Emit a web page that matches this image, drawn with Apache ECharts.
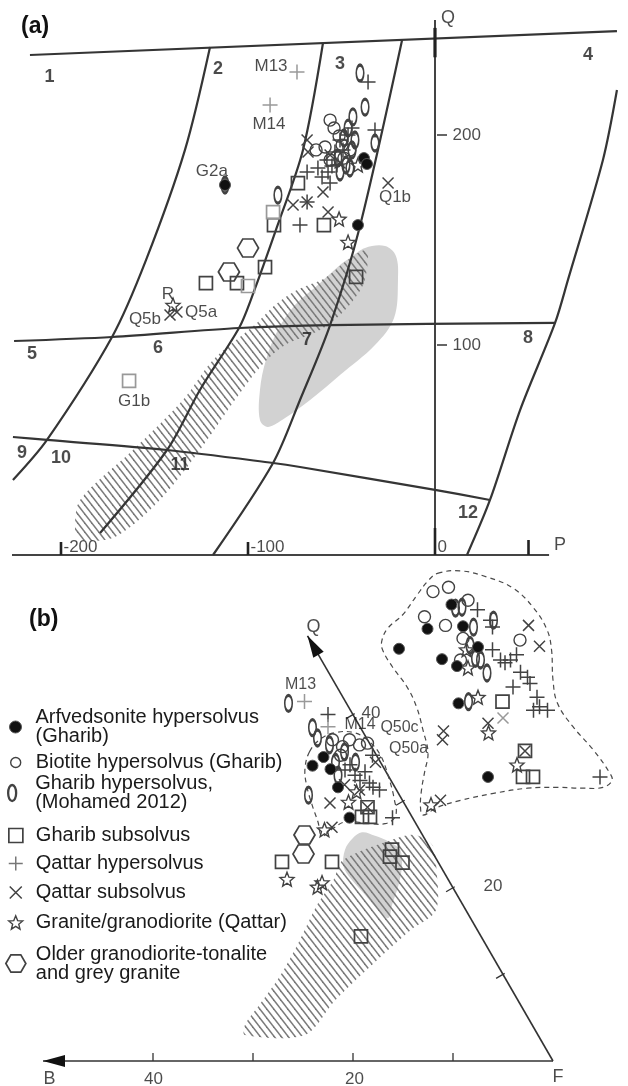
<!DOCTYPE html>
<html><head><meta charset="utf-8">
<script src="https://cdn.jsdelivr.net/npm/echarts@6/dist/echarts.min.js"></script>
<style>html,body{margin:0;padding:0;background:#fff}#c{width:628px;height:1086px}</style>
</head><body><div id="c"></div>
<script>
// ================= Panel (a): P–Q diagram, values are [P, Q] =================
const aTopLine = [[-216.6,238.1],[97.3,249.5]];
const aCurve12 = [[-120.3,241.9],[-133.7,192.9],[-154.5,140.5],[-172.7,103.8],[-207.5,54.8],[-225.7,35.7]];
const aCurve23 = [[-59.9,243.8],[-70.6,192.9],[-84.5,156.2],[-97.9,122.9],[-104.8,108.1],[-125.7,78.6],[-143.3,50.0],[-179.1,10.5]];
const aCurve34 = [[-17.6,245.2],[-40.1,156.7],[-56.1,109.5],[-72.2,73.8],[-86.6,43.8],[-118.7,0]];
const aCurveR  = [[97.3,221.4],[89.8,188.1],[71.1,131.0],[64.2,110.5],[45.5,69.0],[29.4,26.2],[17.1,0]];
const aMidLine = [[-225.1,101.9],[-172.7,103.8],[-104.8,108.1],[-56.1,109.5],[64.2,110.5]];
const aLowLine = [[-225.7,56.2],[-207.5,54.8],[-143.3,50.0],[-86.6,43.8],[-72.2,41.9],[0,31.0],[29.4,26.2]];

const aPAxis = [-226.2, 61];        // extent of P axis line
const aQAxis = [0, 254.8];          // extent of Q axis line
const aQAxisMark = [237, 251];      // thick part at top of Q axis
const aPTicks = [-200, -100, 0, 50];
const aPTickLabels = ['-200', '-100', '0', ''];
const aQTicks = [100, 200];
const aQTickLabels = ['100', '200'];

const aGreyField = [[-45.5,141.4],[-37.4,146.2],[-26.7,147.1],[-20.9,142.4],[-19.8,131.0],[-21.9,112.9],[-32.1,100.0],[-50.8,85.7],[-66.8,73.8],[-80.2,65.2],[-89.3,61.0],[-93.6,64.3],[-93.6,78.6],[-90.4,92.9],[-84.0,107.1],[-74.9,119.0],[-62.6,128.6],[-50.8,138.1]];
const aHatchField = [[-37.4,145.2],[-48.1,139.5],[-58.8,131.9],[-73.8,126.2],[-85.6,119.0],[-95.2,110.5],[-118.7,92.9],[-134.8,73.8],[-161.5,50.0],[-189.8,26.2],[-192.5,11.9],
  [-189.8,7.1],[-171.1,8.6],[-147.1,26.2],[-125.7,50.0],[-107.0,73.8],[-92.5,90.5],[-80.2,100.0],[-61.5,107.1],[-48.1,116.7],[-38.5,128.6],[-35.8,141.4]];

const aArf  = [[-41.2,157.1],[-38.0,189.0],[-36.4,186.2],[-112.3,176.2]];
const aBio  = [[-56.1,207.1],[-54.0,203.3],[-51.3,199.5],[-58.8,194.3],[-63.6,192.9],[-45.5,192.9],[-48.7,189.0],[-49.7,195.2],[-56.1,188.1]];
const aMoh  = [[-40.1,229.5],[-37.4,213.3],[-43.9,208.6],[-32.1,196.2],[-84.0,171.4],[-112.3,176.2],[-46.5,203.3],[-48.7,198.6],[-42.8,197.6],[-45.5,184.3],[-50.8,182.4],[-44.4,192.9],[-51.9,189.0],[-47.6,185.7]];
const aGsub = [[-73.3,177.1],[-86.1,157.1],[-59.4,157.1],[-90.9,137.1],[-122.5,129.5],[-105.9,129.5],[-42.2,132.4]];
const aGsubGrey = [[-86.6,163.3],[-100.0,128.1],[-163.6,82.9]];
const aQhyp = [[-35.8,225.2],[-32.1,202.4],[-68.4,182.4],[-72.2,157.1],[-60.4,180.0],[-56.1,177.1],[-52.4,185.7],[-49.2,192.9],[-57.8,188.1],[-62.6,184.3],[-57.2,182.4],[-68.4,168.1],[-50.8,197.6],[-46.5,200.0],[-44.4,203.3],[-53.5,191.9],[-55.1,185.2]];
const aQhypGrey = [[-73.8,230.0],[-88.2,214.3]];
const aQsub = [[-68.4,197.6],[-67.9,191.9],[-75.9,166.7],[-59.9,172.9],[-57.2,163.3],[-25.1,177.1],[-141.7,114.3],[-138.0,115.7],[-56.1,190.5],[-50.8,186.7],[-68.4,168.1]];
const aGran = [[-41.2,185.7],[-51.3,160.0],[-46.5,149.0],[-140.1,119.0]];
const aOld  = [[-100.0,146.2],[-110.2,134.8]];

const aSampleLabels = ['M13','M14','G2a','Q1b','R','Q5b','Q5a','G1b'];
const aSampleLabelPos = [[-87.7,232.9],[-88.8,205.2],[-119.3,182.9],[-21.4,170.5],[-142.8,124.3],[-155.1,112.4],[-125.1,115.7],[-160.9,73.3]];
const aFieldNums = ['1','2','3','4','5','6','7','8','9','10','11','12'];
const aFieldNumPos = [[-206.1,227.4],[-116.0,231.4],[-50.8,233.8],[81.8,238.1],[-215.5,95.7],[-148.1,98.6],[-68.4,102.4],[49.7,103.3],[-220.9,48.6],[-200.0,46.2],[-136.4,42.9],[17.6,20.0]];
const aAxisNames = ['P','Q'];
const aAxisNamePos = [[66.8,4.8],[7.0,255.7]];

// ================= Panel (b): ternary Q–B–F, values are [B, Q] (F = 100 − B − Q) =================
const bBAxisEnd = 51.0;
const bQAxisEnd = 49.1;
const bTicks = [10, 20, 30, 40];

const bGreyField = [[7.2,25.7],[5.9,26.4],[4.8,26.0],[3.7,25.3],[3.1,24.4],[3.8,22.6],[5.3,20.3],[7.1,18.0],[8.2,16.5],[8.7,17.2],[9.2,19.2],[9.7,21.1],[9.7,22.5],[8.6,24.4]];
const bHatchField = [[29.3,3.0],[23.3,3.0],[18.3,7.0],[11.7,11.7],[6.7,15.1],[3.0,17.4],[0.6,22.1],[-0.4,24.9],[0.7,26.1],[2.9,25.7],[9.4,23.2],[11.5,20.9],[14.6,18.0],[18.3,14.0],[22.3,9.9],[26.1,6.5],[28.7,4.2]];
const bOutlineRight = [[-16.6,56.3],[-19.0,56.6],[-21.3,55.9],[-23.3,54.6],[-24.2,52.4],[-24.3,49.8],[-23.6,47.5],[-22.0,44.0],[-21.1,41.3],[-21.3,38.6],[-22.0,35.9],[-22.3,33.3],[-22.1,32.4],[-20.8,31.6],[-18.8,31.5],[-16.2,31.6],[-13.2,31.5],[-9.5,30.9],[-5.8,30.1],[-3.1,29.3],[-1.2,28.4],[-1.4,29.3],[-2.5,31.3],[-3.8,33.3],[-5.3,35.6],[-6.1,38.2],[-6.8,40.9],[-7.0,43.2],[-6.7,45.5],[-6.7,47.5],[-7.2,48.6],[-8.5,50.0],[-10.7,51.5],[-13.3,53.8],[-15.3,55.5]];
const bOutlineLeft = [[6.5,35.7],[4.8,37.1],[2.9,37.9],[0.9,37.9],[-0.1,36.8],[-0.4,35.3],[0.0,33.0],[0.8,30.1],[1.6,28.3],[3.1,27.4],[5.1,27.5],[7.0,27.6],[8.5,26.9],[10.1,26.0],[9.7,27.6],[9.3,29.6],[8.7,31.9],[7.9,33.8]];

const bArf  = [[-12.4,49.9],[-8.4,47.6],[-12.1,46.4],[-13.2,45.6],[-16.1,50.2],[-16.2,52.7],[-16.4,47.8],[-11.2,41.3],[-9.9,32.8],
               [7.0,34.1],[5.4,35.1],[5.4,33.7],[5.7,31.6],[6.3,28.1]];
const bBio  = [[-15.1,54.2],[-16.9,54.7],[-12.8,51.3],[-14.4,50.3],[-18.1,53.2],[-15.4,48.8],[-21.0,48.6],[-13.9,46.3],
               [3.5,37.1],[2.9,36.3],[1.8,37.1],[1.1,36.5],[0.2,36.7],[3.6,35.3]];
const bMoh  = [[-16.4,52.3],[-17.1,52.4],[-17.1,50.1],[-19.5,50.9],[-15.7,48.0],[-15.9,46.3],[-15.5,46.5],[-15.8,44.8],[-12.3,41.5],
               [5.8,41.3],[4.8,38.5],[4.9,37.3],[9.1,30.7],[4.1,36.5],[3.0,35.7],[5.0,33.0],[2.5,34.5],[4.5,34.5]];
const bGsub = [[-15.7,41.5],[-15.1,35.8],[-13.4,32.8],[-14.4,32.8],
               [3.9,29.3],[5.0,28.2],[4.2,28.2],[15.6,23.0],[10.6,23.0],[3.9,24.4],[4.5,23.6],[3.6,22.9],[12.0,14.4]];
const bQhyp = [[-18.5,52.1],[-19.2,50.9],[-19.0,50.1],[-17.7,47.5],[-17.9,46.3],[-18.9,46.3],[-19.8,46.9],[-19.2,44.9],[-19.6,44.3],[-19.5,43.6],[-17.6,43.2],[-19.4,42.0],[-18.3,40.5],[-19.1,40.9],[-19.7,40.5],[-21.1,32.8],[-18.2,46.0],
               [2.5,40.0],[0.4,35.3],[2.2,31.6],[2.0,28.1],[3.1,32.4],[2.1,33.4],[3.2,34.2],[3.3,33.0],[2.3,32.1],[4.0,33.6],[1.7,31.3]];
const bQhypGrey = [[4.1,41.5],[3.2,38.6]];
const bQsub = [[-22.7,50.3],[-22.6,47.9],[-13.0,39.0],[-8.1,38.1],[-7.5,37.1],[-3.8,30.1],[-15.1,35.8],
               [7.4,29.8],[8.6,27.0],[0.5,34.5],[3.7,31.3],[4.9,31.9],[3.9,29.3]];
const bQsubGrey = [[-14.8,39.6]];
const bGran = [[-15.1,47.5],[-14.2,45.4],[-13.5,42.0],[-12.5,37.9],[-13.5,34.2],[-2.6,29.6],
               [5.5,29.9],[4.1,31.1],[9.5,26.7],[16.1,21.0],[13.5,20.1],[12.8,20.6]];
const bOld  = [[11.8,26.1],[13.0,23.9]];

const bAxisNames = ['Q','B','F'];
const bAxisNamePos = [[-1.1,50.1],[51.4,-2.1],[0.4,-1.8]];
const bTickTexts = ['40','20','40','20'];
const bTickTextPos = [[-1.9,40.2],[-4.1,20.2],[41.0,-2.1],[20.9,-2.1]];
const bSampleLabels = ['M13','M14','Q50c','Q50a'];
const bSampleLabelPos = [[3.5,43.5],[-0.1,38.8],[-3.9,38.5],[-3.6,36.1]];

// ================= styling & helpers =================
const FONT = "'Liberation Sans', Arial, Helvetica, sans-serif";
const INK = '#353535';
const SYMC = '#424242';
const GREY = '#999999';
const NOFILL = 'rgba(255,255,255,0)';
const S3 = Math.sqrt(3) / 2;
const tern2cart = ([b, q]) => [-(b + q / 2), q * S3];

const ELLIPSE = 'path://M5,0C7.8,0,10,4.5,10,10C10,15.5,7.8,20,5,20C2.2,20,0,15.5,0,10C0,4.5,2.2,0,5,0Z';
const SQUARE = 'path://M0,0L10,0L10,10L0,10Z';
const PLUS = 'path://M5,0L5,10M0,5L10,5';
const CROSS = 'path://M0,0L10,10M10,0L0,10';
const STAR = 'path://M5,0L6.3,3.25L9.76,3.46L7.08,5.68L7.94,9.05L5,7.2L2.06,9.05L2.92,5.68L0.24,3.46L3.7,3.25Z';
const HEX = 'path://M0,5L2.9,0L8.6,0L11.5,5L8.6,10L2.9,10Z';

const N_ARF = 'Arfvedsonite hypersolvus (Gharib)';
const N_BIO = 'Biotite hypersolvus (Gharib)';
const N_MOH = 'Gharib hypersolvus, (Mohamed 2012)';
const N_GSUB = 'Gharib subsolvus';
const N_QHYP = 'Qattar hypersolvus';
const N_QSUB = 'Qattar subsolvus';
const N_GRAN = 'Granite/granodiorite (Qattar)';
const N_OLD = 'Older granodiorite-tonalite and grey granite';

const STY = {
  arf:  {symbol: 'circle', size: 11, fill: '#111', stroke: '#555', bw: 1},
  bio:  {symbol: 'circle', size: 12, fill: NOFILL, stroke: SYMC, bw: 1.4},
  moh:  {symbol: ELLIPSE, size: [7.5, 16], fill: NOFILL, stroke: SYMC, bw: 2.3},
  gsub: {symbol: SQUARE, size: 13, fill: NOFILL, stroke: SYMC, bw: 1.7},
  qhyp: {symbol: PLUS, size: 15, fill: NOFILL, stroke: SYMC, bw: 1.5},
  qsub: {symbol: CROSS, size: 11, fill: NOFILL, stroke: SYMC, bw: 1.5},
  gran: {symbol: STAR, size: 14, fill: NOFILL, stroke: SYMC, bw: 1.4},
  old:  {symbol: HEX, size: [21, 18], fill: NOFILL, stroke: SYMC, bw: 1.7}
};

function ptSeries(name, grid, data, st, stroke, z) {
  return {
    type: 'scatter', name, xAxisIndex: grid, yAxisIndex: grid, silent: true, z: z || 6,
    symbol: st.symbol, symbolSize: st.size, clip: false,
    itemStyle: {color: st.fill, borderColor: stroke || st.stroke, borderWidth: st.bw, opacity: 1},
    data: grid === 1 ? data.map(tern2cart) : data
  };
}
function curveSeries(grid, pts, width, smooth) {
  return {
    type: 'line', xAxisIndex: grid, yAxisIndex: grid, data: pts, symbol: 'none', showSymbol: false,
    smooth: smooth, silent: true, clip: false, z: 3, lineStyle: {color: INK, width: width}
  };
}
function segSeries(grid, segs, style, z) {
  return {
    type: 'custom', xAxisIndex: grid, yAxisIndex: grid, silent: true, clip: false, z: z || 3,
    encode: {x: [0, 2], y: [1, 3]}, data: segs,
    renderItem(params, api) {
      const a = api.coord([api.value(0), api.value(1)]);
      const b = api.coord([api.value(2), api.value(3)]);
      return {type: 'line', shape: {x1: a[0], y1: a[1], x2: b[0], y2: b[1]}, style: Object.assign({}, style)};
    }
  };
}
function polySeries(grid, pts, style, smooth, z) {
  return {
    type: 'custom', xAxisIndex: grid, yAxisIndex: grid, silent: true, clip: false, z: z,
    data: pts,
    renderItem(params, api) {
      if (params.dataIndex !== 0) return null;
      return {type: 'polygon', shape: {points: pts.map(p => api.coord(p)), smooth: smooth}, style: Object.assign({}, style)};
    }
  };
}
function textSeries(grid, texts, pos, fontSize, fontWeight) {
  return {
    type: 'scatter', xAxisIndex: grid, yAxisIndex: grid, silent: true, clip: false, z: 12,
    symbolSize: 1, itemStyle: {color: 'rgba(0,0,0,0)'},
    data: texts.map((t, i) => ({name: t, value: grid === 1 ? tern2cart(pos[i]) : pos[i]})),
    label: {show: true, position: 'inside', formatter: '{b}', color: '#1e1e1e', fontSize: fontSize,
            fontWeight: fontWeight || 'normal', fontFamily: FONT}
  };
}

// hatch pattern (diagonal "\" strokes)
const hatch = document.createElement('canvas');
hatch.width = 7; hatch.height = 9;
(function () {
  const c = hatch.getContext('2d');
  c.strokeStyle = '#7a7a7a'; c.lineWidth = 1.5;
  [-7, 0, 7].forEach(dx => { c.beginPath(); c.moveTo(dx - 3.5, -4.5); c.lineTo(dx + 10.5, 13.5); c.stroke(); });
})();
const HATCH = {image: hatch, repeat: 'repeat'};
const GREYFILL = '#d2d2d2';

// ---------- panel (a) custom axis pieces ----------
const PTICK_PX = [13, 13, 27, 15];
const aTickSeries = {
  type: 'custom', xAxisIndex: 0, yAxisIndex: 0, silent: true, clip: false, z: 4,
  encode: {x: 0, y: 1},
  data: aPTicks.map((v, i) => [v, 0, i]),
  renderItem(params, api) {
    const p = api.coord([api.value(0), 0]);
    return {type: 'line', shape: {x1: p[0], y1: p[1], x2: p[0], y2: p[1] - PTICK_PX[api.value(2)]},
            style: {stroke: '#222', lineWidth: 2.6}};
  }
};
const aQTickSeries = {
  type: 'custom', xAxisIndex: 0, yAxisIndex: 0, silent: true, clip: false, z: 4,
  encode: {x: 0, y: 1},
  data: aQTicks.map(v => [0, v]),
  renderItem(params, api) {
    const p = api.coord([0, api.value(1)]);
    return {type: 'line', shape: {x1: p[0] + 2, y1: p[1], x2: p[0] + 12, y2: p[1]}, style: {stroke: '#333', lineWidth: 1.5}};
  }
};
const aPTickLabelSeries = {
  type: 'scatter', xAxisIndex: 0, yAxisIndex: 0, silent: true, clip: false, z: 12, symbolSize: 1,
  itemStyle: {color: 'rgba(0,0,0,0)'},
  data: aPTicks.map((v, i) => ({name: aPTickLabels[i], value: [v, 0]})),
  label: {show: true, position: 'right', distance: 2, offset: [0, -8], formatter: '{b}', color: '#1e1e1e', fontSize: 17, fontFamily: FONT}
};
const aQTickLabelSeries = {
  type: 'scatter', xAxisIndex: 0, yAxisIndex: 0, silent: true, clip: false, z: 12, symbolSize: 1,
  itemStyle: {color: 'rgba(0,0,0,0)'},
  data: aQTicks.map((v, i) => ({name: aQTickLabels[i], value: [0, v]})),
  label: {show: true, position: 'right', distance: 17, formatter: '{b}', color: '#1e1e1e', fontSize: 17, fontFamily: FONT}
};

// ---------- panel (b) custom axis pieces ----------
const bAxisSegs = [[0, 0, ...tern2cart([bBAxisEnd, 0])], [0, 0, ...tern2cart([0, bQAxisEnd])]];
const bArrowSeries = {
  type: 'custom', xAxisIndex: 1, yAxisIndex: 1, silent: true, clip: false, z: 4,
  encode: {x: [0, 2], y: [1, 3]},
  data: [[...tern2cart([bBAxisEnd, 0]), 0, 0], [...tern2cart([0, bQAxisEnd]), 0, 0]],
  renderItem(params, api) {
    const t = api.coord([api.value(0), api.value(1)]);
    const f = api.coord([api.value(2), api.value(3)]);
    const dx = t[0] - f[0], dy = t[1] - f[1], L = Math.hypot(dx, dy);
    const ux = dx / L, uy = dy / L, len = 22, w = 6;
    const bx = t[0] - ux * len, by = t[1] - uy * len;
    return {type: 'polygon', shape: {points: [t, [bx - uy * w, by + ux * w], [bx + uy * w, by - ux * w]]}, style: {fill: '#111'}};
  }
};
const bTickSeries = {
  type: 'custom', xAxisIndex: 1, yAxisIndex: 1, silent: true, clip: false, z: 4,
  encode: {x: 0, y: 1},
  data: bTicks.map(v => [...tern2cart([v, 0]), 0]).concat(bTicks.map(v => [...tern2cart([0, v]), 1])),
  renderItem(params, api) {
    const p = api.coord([api.value(0), api.value(1)]);
    if (api.value(2) === 0) {
      return {type: 'line', shape: {x1: p[0], y1: p[1], x2: p[0], y2: p[1] - 8}, style: {stroke: '#333', lineWidth: 1.3}};
    }
    return {type: 'line', shape: {x1: p[0] + 1.7, y1: p[1] - 1, x2: p[0] - 6.9, y2: p[1] + 4}, style: {stroke: '#333', lineWidth: 1.3}};
  }
};

const series = [
  // panel (a) fields
  polySeries(0, aGreyField, {fill: GREYFILL}, 0.35, 1),
  polySeries(0, aHatchField, {fill: HATCH}, 0.3, 2),
  curveSeries(0, aTopLine, 2.2, false),
  curveSeries(0, aCurve12, 2.2, 0.3),
  curveSeries(0, aCurve23, 2.2, 0.3),
  curveSeries(0, aCurve34, 2.2, 0.3),
  curveSeries(0, aCurveR, 2.2, 0.3),
  curveSeries(0, aMidLine, 2.2, 0.3),
  curveSeries(0, aLowLine, 2.2, 0.3),
  segSeries(0, [[aPAxis[0], 0, aPAxis[1], 0]], {stroke: '#444', lineWidth: 2.2}, 3),
  segSeries(0, [[0, aQAxis[0], 0, aQAxis[1]]], {stroke: '#444', lineWidth: 2}, 3),
  segSeries(0, [[0, aQAxisMark[0], 0, aQAxisMark[1]]], {stroke: '#222', lineWidth: 3.2}, 4),
  aTickSeries, aQTickSeries, aPTickLabelSeries, aQTickLabelSeries,
  // panel (b) fields & axes
  polySeries(1, bGreyField.map(tern2cart), {fill: GREYFILL}, 0.35, 1),
  polySeries(1, bHatchField.map(tern2cart), {fill: HATCH}, 0.3, 2),
  polySeries(1, bOutlineRight.map(tern2cart), {fill: 'none', stroke: '#4a4a4a', lineWidth: 1.2, lineDash: [5, 4]}, 0.4, 4),
  polySeries(1, bOutlineLeft.map(tern2cart), {fill: 'none', stroke: '#4a4a4a', lineWidth: 1.2, lineDash: [5, 4]}, 0.4, 4),
  segSeries(1, bAxisSegs, {stroke: '#333', lineWidth: 1.6}, 3),
  bArrowSeries, bTickSeries,
  // points, panel (a)
  ptSeries(N_OLD, 0, aOld, STY.old),
  ptSeries(N_GSUB, 0, aGsub, STY.gsub),
  ptSeries('grey squares a', 0, aGsubGrey, STY.gsub, GREY),
  ptSeries(N_MOH, 0, aMoh, STY.moh),
  ptSeries(N_BIO, 0, aBio, STY.bio),
  ptSeries(N_QHYP, 0, aQhyp, STY.qhyp),
  ptSeries('grey plus a', 0, aQhypGrey, STY.qhyp, GREY),
  ptSeries(N_QSUB, 0, aQsub, STY.qsub),
  ptSeries(N_GRAN, 0, aGran, STY.gran),
  ptSeries(N_ARF, 0, aArf, STY.arf, null, 7),
  // points, panel (b)
  ptSeries(N_OLD, 1, bOld, STY.old),
  ptSeries(N_GSUB, 1, bGsub, STY.gsub),
  ptSeries(N_MOH, 1, bMoh, STY.moh),
  ptSeries(N_BIO, 1, bBio, STY.bio),
  ptSeries(N_QHYP, 1, bQhyp, STY.qhyp),
  ptSeries('grey plus b', 1, bQhypGrey, STY.qhyp, GREY),
  ptSeries(N_QSUB, 1, bQsub, STY.qsub),
  ptSeries('grey cross b', 1, bQsubGrey, STY.qsub, GREY),
  ptSeries(N_GRAN, 1, bGran, STY.gran),
  ptSeries(N_ARF, 1, bArf, STY.arf, null, 7),
  // texts
  textSeries(0, aSampleLabels, aSampleLabelPos, 17),
  textSeries(0, aFieldNums, aFieldNumPos, 18, 'bold'),
  textSeries(0, aAxisNames, aAxisNamePos, 18),
  textSeries(1, bAxisNames, bAxisNamePos, 18),
  textSeries(1, bTickTexts, bTickTextPos, 17),
  textSeries(1, bSampleLabels, bSampleLabelPos, 16)
];

// legend rows (one legend component per row so the spacing follows the figure)
const LEG = [
  {name: N_ARF, text: 'Arfvedsonite hypersolvus\n(Gharib)', st: STY.arf, box: 12, top: 703, padTop: 10, dx: 0},
  {name: N_BIO, text: 'Biotite hypersolvus (Gharib)', st: STY.bio, box: 10, top: 752.5, padTop: 0, dx: 0},
  {name: N_MOH, text: 'Gharib hypersolvus,\n(Mohamed 2012)', st: STY.moh, box: 16, top: 772, padTop: 4, dx: 3},
  {name: N_GSUB, text: 'Gharib subsolvus', st: STY.gsub, box: 14, top: 825.5, padTop: 0, dx: 0},
  {name: N_QHYP, text: 'Qattar hypersolvus', st: Object.assign({}, STY.qhyp, {stroke: '#777'}), box: 14, top: 853.5, padTop: 0, dx: 0},
  {name: N_QSUB, text: 'Qattar subsolvus', st: STY.qsub, box: 12, top: 882.5, padTop: 0, dx: 0},
  {name: N_GRAN, text: 'Granite/granodiorite (Qattar)', st: STY.gran, box: 14, top: 912.5, padTop: 0, dx: 0},
  {name: N_OLD, text: 'Older granodiorite-tonalite\nand grey granite', st: STY.old, box: 20, top: 944, padTop: 0, dx: 0}
];
const legends = LEG.map(r => ({
  orient: 'vertical', left: 15 - r.box / 2, top: r.top, padding: 0, itemGap: 0,
  itemWidth: r.box, itemHeight: r.box, selectedMode: false, symbolKeepAspect: true,
  data: [{name: r.name, icon: r.st.symbol}],
  formatter: () => r.text,
  itemStyle: {color: r.st.fill, borderColor: r.st.stroke, borderWidth: r.st.bw},
  textStyle: {fontSize: 20, lineHeight: 19, fontFamily: FONT, color: '#1a1a1a',
              padding: [r.padTop, 0, 0, 15 - r.box / 2 + r.dx]}
}));

const option = {
  animation: false,
  backgroundColor: '#fff',
  textStyle: {fontFamily: FONT},
  grid: [
    {left: 435 - 1.87 * 230, width: 1.87 * 332, top: 9, height: 546},
    {left: 3, width: 625, top: 561, height: 525}
  ],
  xAxis: [
    {type: 'value', gridIndex: 0, min: -230, max: 102, show: false},
    {type: 'value', gridIndex: 1, min: -55, max: 7.5, show: false}
  ],
  yAxis: [
    {type: 'value', gridIndex: 0, min: 0, max: 260, show: false},
    {type: 'value', gridIndex: 1, min: -2.5, max: 50, show: false}
  ],
  legend: legends,
  graphic: [
    {type: 'text', left: 21, top: 15, style: {text: '(a)', font: 'bold 23px ' + FONT, fill: '#111'}},
    {type: 'text', left: 29, top: 608, style: {text: '(b)', font: 'bold 23px ' + FONT, fill: '#111'}}
  ],
  series: series
};

const chart = echarts.init(document.getElementById('c'), null, {renderer: 'canvas'});
chart.setOption(option);
</script></body></html>
